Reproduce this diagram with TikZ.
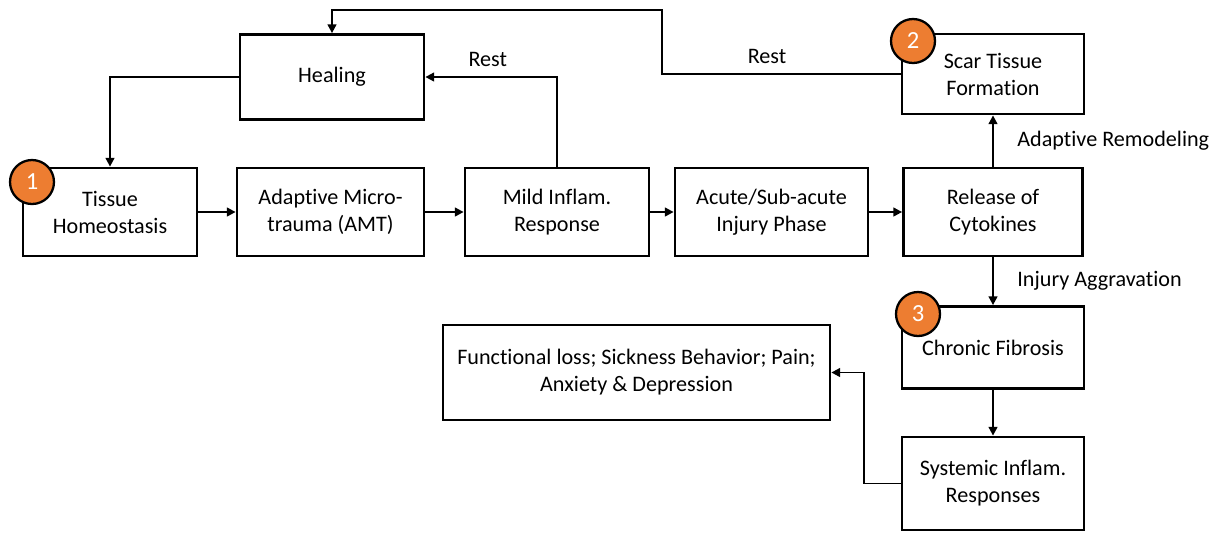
\documentclass[tikz,border=0pt]{standalone}
\usepackage{fontspec}
\setmainfont[Ligatures=NoCommon]{Carlito}
\usepackage{tikz}
\definecolor{stageorange}{RGB}{237, 125, 49}
\usetikzlibrary{arrows.meta,positioning}

\begin{document}
\begin{tikzpicture}[x=0.02cm, y=-0.02cm,
    font=\fontsize{12.6pt}{15.4pt}\selectfont,
    box/.style={rectangle, draw, line width=1.6pt, align=center, inner sep=2pt},
    stage/.style={circle, draw, line width=1.3pt, fill=stageorange, text=white, minimum size=0.88cm, inner sep=0pt, font=\fontsize{14pt}{16pt}\selectfont},
    flow/.style={-{Triangle[length=5pt,width=5pt]}, line width=1.1pt}]
    \useasboundingbox (0,0) rectangle (1213,532);

    \node[box, minimum width=3.68cm, minimum height=1.70cm] (healing) at (332,77) {Healing};
    \node[box, minimum width=3.48cm, minimum height=1.76cm] (homeo) at (110,212) {Tissue\\Homeostasis};
    \node[box, minimum width=3.74cm, minimum height=1.76cm] (amt) at (330.5,212) {Adaptive Micro-\\trauma (AMT)};
    \node[box, minimum width=3.68cm, minimum height=1.76cm] (mild) at (557,212) {Mild Inflam.\\Response};
    \node[box, minimum width=3.86cm, minimum height=1.76cm] (acute) at (771.5,212) {Acute/Sub-acute\\Injury Phase};
    \node[box, minimum width=3.58cm, minimum height=1.76cm] (cyto) at (993,212) {Release of\\Cytokines};
    \node[box, minimum width=3.64cm, minimum height=1.60cm] (scar) at (993,74) {Scar Tissue\\Formation};
    \node[box, minimum width=3.64cm, minimum height=1.64cm] (fibro) at (993,347.5) {Chronic Fibrosis};
    \node[box, minimum width=3.64cm, minimum height=1.86cm] (systemic) at (993,483.5) {Systemic Inflam.\\Responses};
    \node[box, minimum width=7.74cm, minimum height=1.90cm] (funcloss) at (636.5,372.5) {Functional loss; Sickness Behavior; Pain;\\Anxiety \& Depression};

    \node[stage] (one) at (32,182) {1};
    \node[stage] (two) at (913,41) {2};
    \node[stage] (three) at (918,314) {3};

    \coordinate (restturn) at (662,10);

    \draw[flow] (homeo) -- (amt);
    \draw[flow] (amt) -- (mild);
    \draw[flow] (mild) -- (acute);
    \draw[flow] (acute) -- (cyto);
    \draw[flow] (healing.west) -| (homeo.north);
    \draw[flow] (mild.north) |- node[pos=0.763, above=2pt] {Rest} (healing.east);
    \draw[flow] (cyto) -- node[right=10pt] {Adaptive Remodeling} (scar);
    \draw[flow] (cyto) -- node[right=10pt] {Injury Aggravation} (fibro);
    \draw[flow] (scar.west) -| node[pos=0.28, above=2pt] {Rest} (restturn) -| (healing.north);
    \draw[flow] (fibro) -- (systemic);
    \draw[flow] (systemic.west) -- ++(-37,0) |- (funcloss.east);
\end{tikzpicture}
\end{document}
